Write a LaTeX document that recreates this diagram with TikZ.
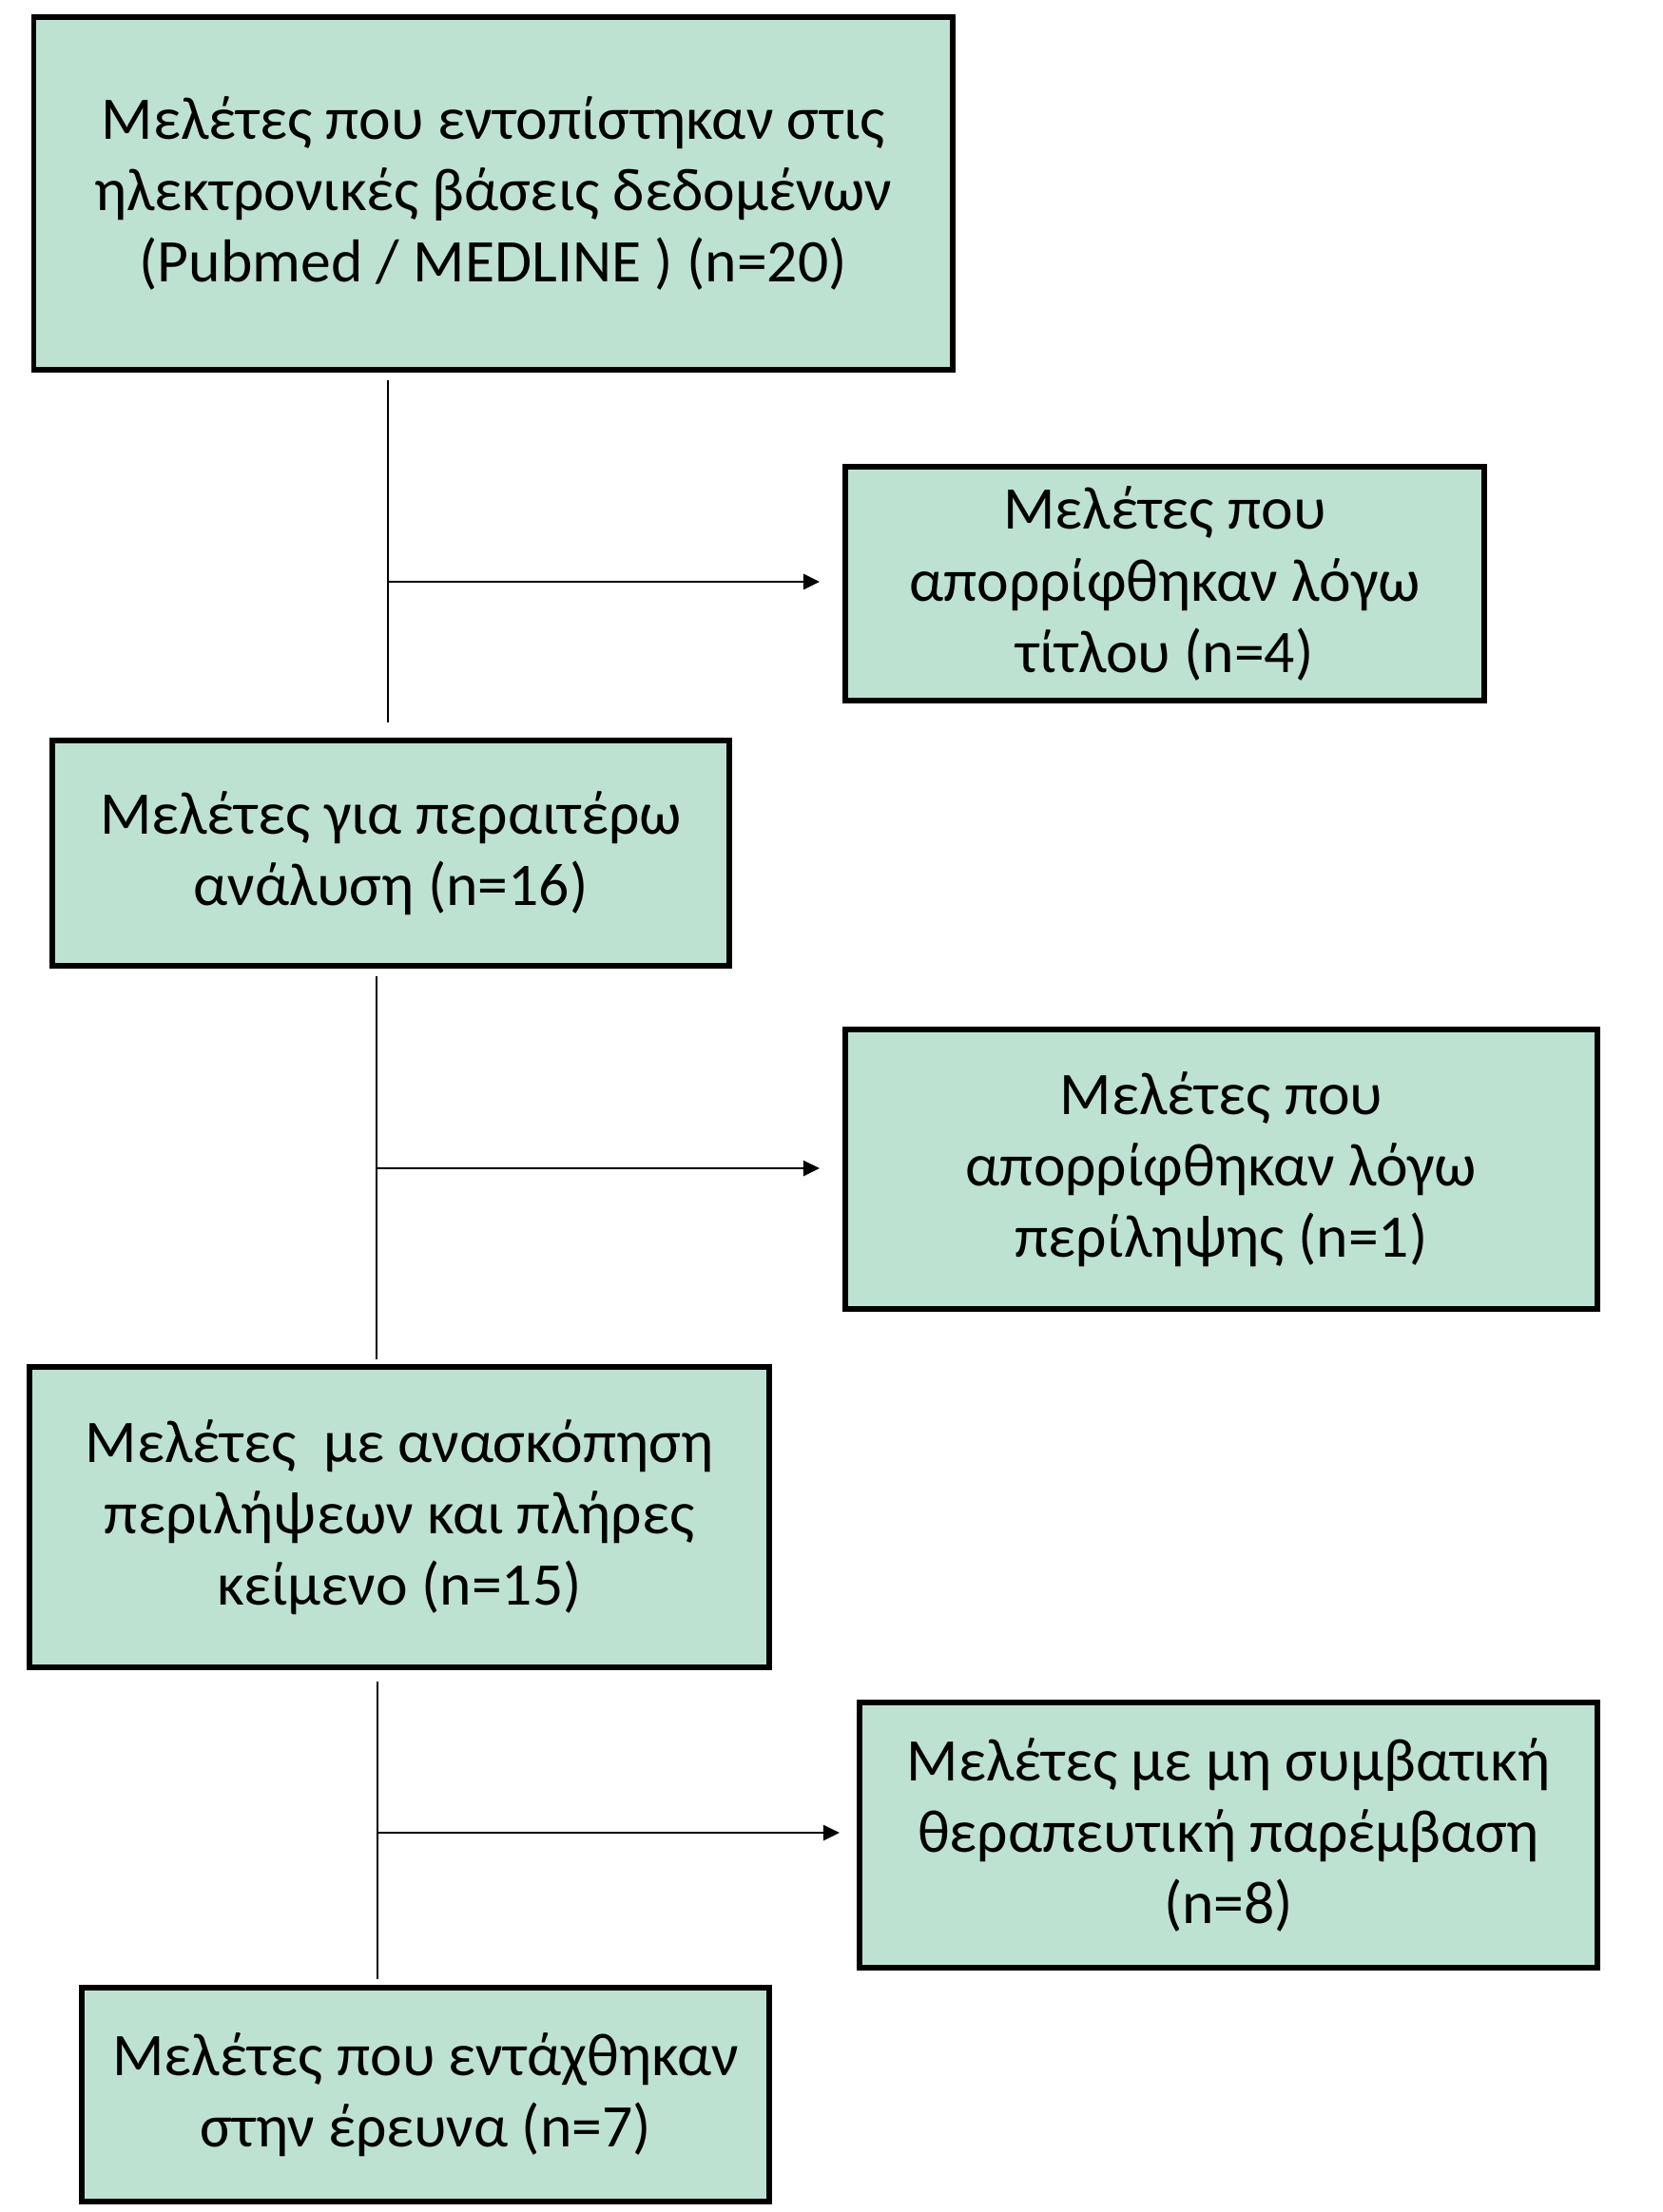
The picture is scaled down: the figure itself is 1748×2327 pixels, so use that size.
\documentclass[tikz,border=0pt]{standalone}
\usepackage{fontspec}
\setmainfont{Carlito}
\usetikzlibrary{arrows.meta}
\definecolor{boxgreen}{RGB}{189,226,210}

\begin{document}
\begin{tikzpicture}[x=0.01cm,y=-0.01cm,>={Triangle[length=0.17cm,width=0.16cm]},
        box/.style={draw,line width=1.6pt,fill=boxgreen,align=center,inner sep=0pt,
          font=\fontsize{18.1}{21.4}\selectfont},
        flow/.style={line width=0.4pt},
        side/.style={->,line width=0.8pt}]
        \useasboundingbox (0,0) rectangle (1748,2327);

        \node[box, minimum width=9.66cm, minimum height=3.71cm] (found) at (518.6,203.3)
          {Μελέτες που εντοπίστηκαν στις\\ ηλεκτρονικές βάσεις δεδομένων\\ (Pubmed / MEDLINE ) (n=20)};
        \node[box, minimum width=6.72cm, minimum height=2.46cm] (title) at (1225,614)
          {Μελέτες που\\ απορρίφθηκαν λόγω\\ τίτλου (n=4)};
        \node[box, minimum width=7.12cm, minimum height=2.37cm] (screen) at (411,897.5)
          {Μελέτες για περαιτέρω\\ ανάλυση (n=16)};
        \node[box, minimum width=7.91cm, minimum height=2.94cm] (abstr) at (1284.5,1230)
          {Μελέτες που\\ απορρίφθηκαν λόγω\\ περίληψης (n=1)};
        \node[box, minimum width=7.78cm, minimum height=3.16cm] (full) at (420,1596)
          {Μελέτες\ \ με ανασκόπηση\\ περιλήψεων και πλήρες\\ κείμενο (n=15)};
        \node[box, minimum width=7.76cm, minimum height=2.79cm] (nonconv) at (1292,1930.5)
          {Μελέτες με μη συμβατική\\ θεραπευτική παρέμβαση\\ (n=8)};
        \node[box, minimum width=7.23cm, minimum height=2.25cm] (incl) at (447.5,2203.5)
          {Μελέτες που εντάχθηκαν\\ στην έρευνα (n=7)};

        % branch points
        \coordinate (j1) at (408,612);
        \coordinate (j2) at (396,1229);
        \coordinate (j3) at (397,1928);

        \draw[flow, shorten <=0.08cm, shorten >=0.16cm] (found.south -| j1) -- (screen.north -| j1);
        \draw[side, shorten >=0.24cm] (j1) -- (j1 -| title.west);

        \draw[flow, shorten <=0.08cm, shorten >=0.05cm] (screen.south -| j2) -- (full.north -| j2);
        \draw[side, shorten >=0.24cm] (j2) -- (j2 -| abstr.west);

        \draw[flow, shorten <=0.12cm, shorten >=0.06cm] (full.south -| j3) -- (incl.north -| j3);
        \draw[side, shorten >=0.18cm] (j3) -- (j3 -| nonconv.west);
      \end{tikzpicture}
\end{document}
